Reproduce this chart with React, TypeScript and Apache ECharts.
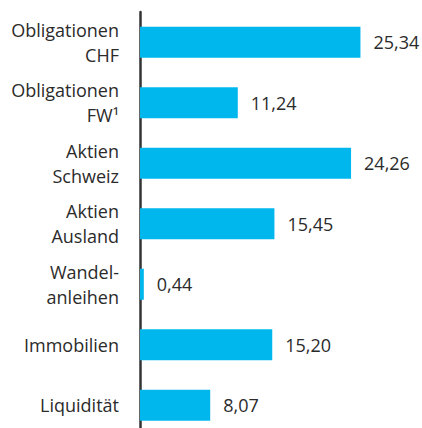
import React, { useEffect, useRef } from "react";
import * as echarts from "echarts";

const categories = [
  "Obligationen\nCHF",
  "Obligationen\nFW¹",
  "Aktien\nSchweiz",
  "Aktien\nAusland",
  "Wandel-\nanleihen",
  "Immobilien",
  "Liquidität",
];
const values = [25.34, 11.24, 24.26, 15.45, 0.44, 15.2, 8.07];

const FONT = "'Open Sans', 'Noto Sans', sans-serif";
const TEXT = "#2b2b2b";

export default function App() {
  const ref = useRef<HTMLDivElement>(null);
  useEffect(() => {
    if (!ref.current) return;
    const chart = echarts.init(ref.current, null, { renderer: "svg" });
    chart.setOption({
      animation: false,
      grid: { left: 140, right: 21, top: 12, bottom: 0.5, containLabel: false },
      xAxis: {
        type: "value",
        min: 0,
        max: 30,
        show: false,
      },
      yAxis: {
        type: "category",
        data: categories,
        inverse: true,
        axisLine: { show: true, lineStyle: { color: "#333333", width: 2.5 } },
        axisTick: { show: false },
        splitLine: { show: false },
        axisLabel: {
          margin: 21,
          color: TEXT,
          fontFamily: FONT,
          fontSize: 18,
          lineHeight: 25,
          align: "right",
        },
      },
      series: [
        {
          type: "bar",
          data: values,
          barWidth: 31,
          itemStyle: { color: "#00B7ED" },
          label: {
            show: true,
            position: "right",
            distance: 13,
            color: TEXT,
            fontFamily: FONT,
            fontSize: 18,
            formatter: (p: any) => Number(p.value).toFixed(2).replace(".", ","),
          },
          z: 1,
        },
      ],
    });
    return () => chart.dispose();
  }, []);
  return (
    <div
      ref={ref}
      style={{ position: "fixed", left: 0, top: 0, width: 422, height: 436, background: "#fff" }}
    />
  );
}
